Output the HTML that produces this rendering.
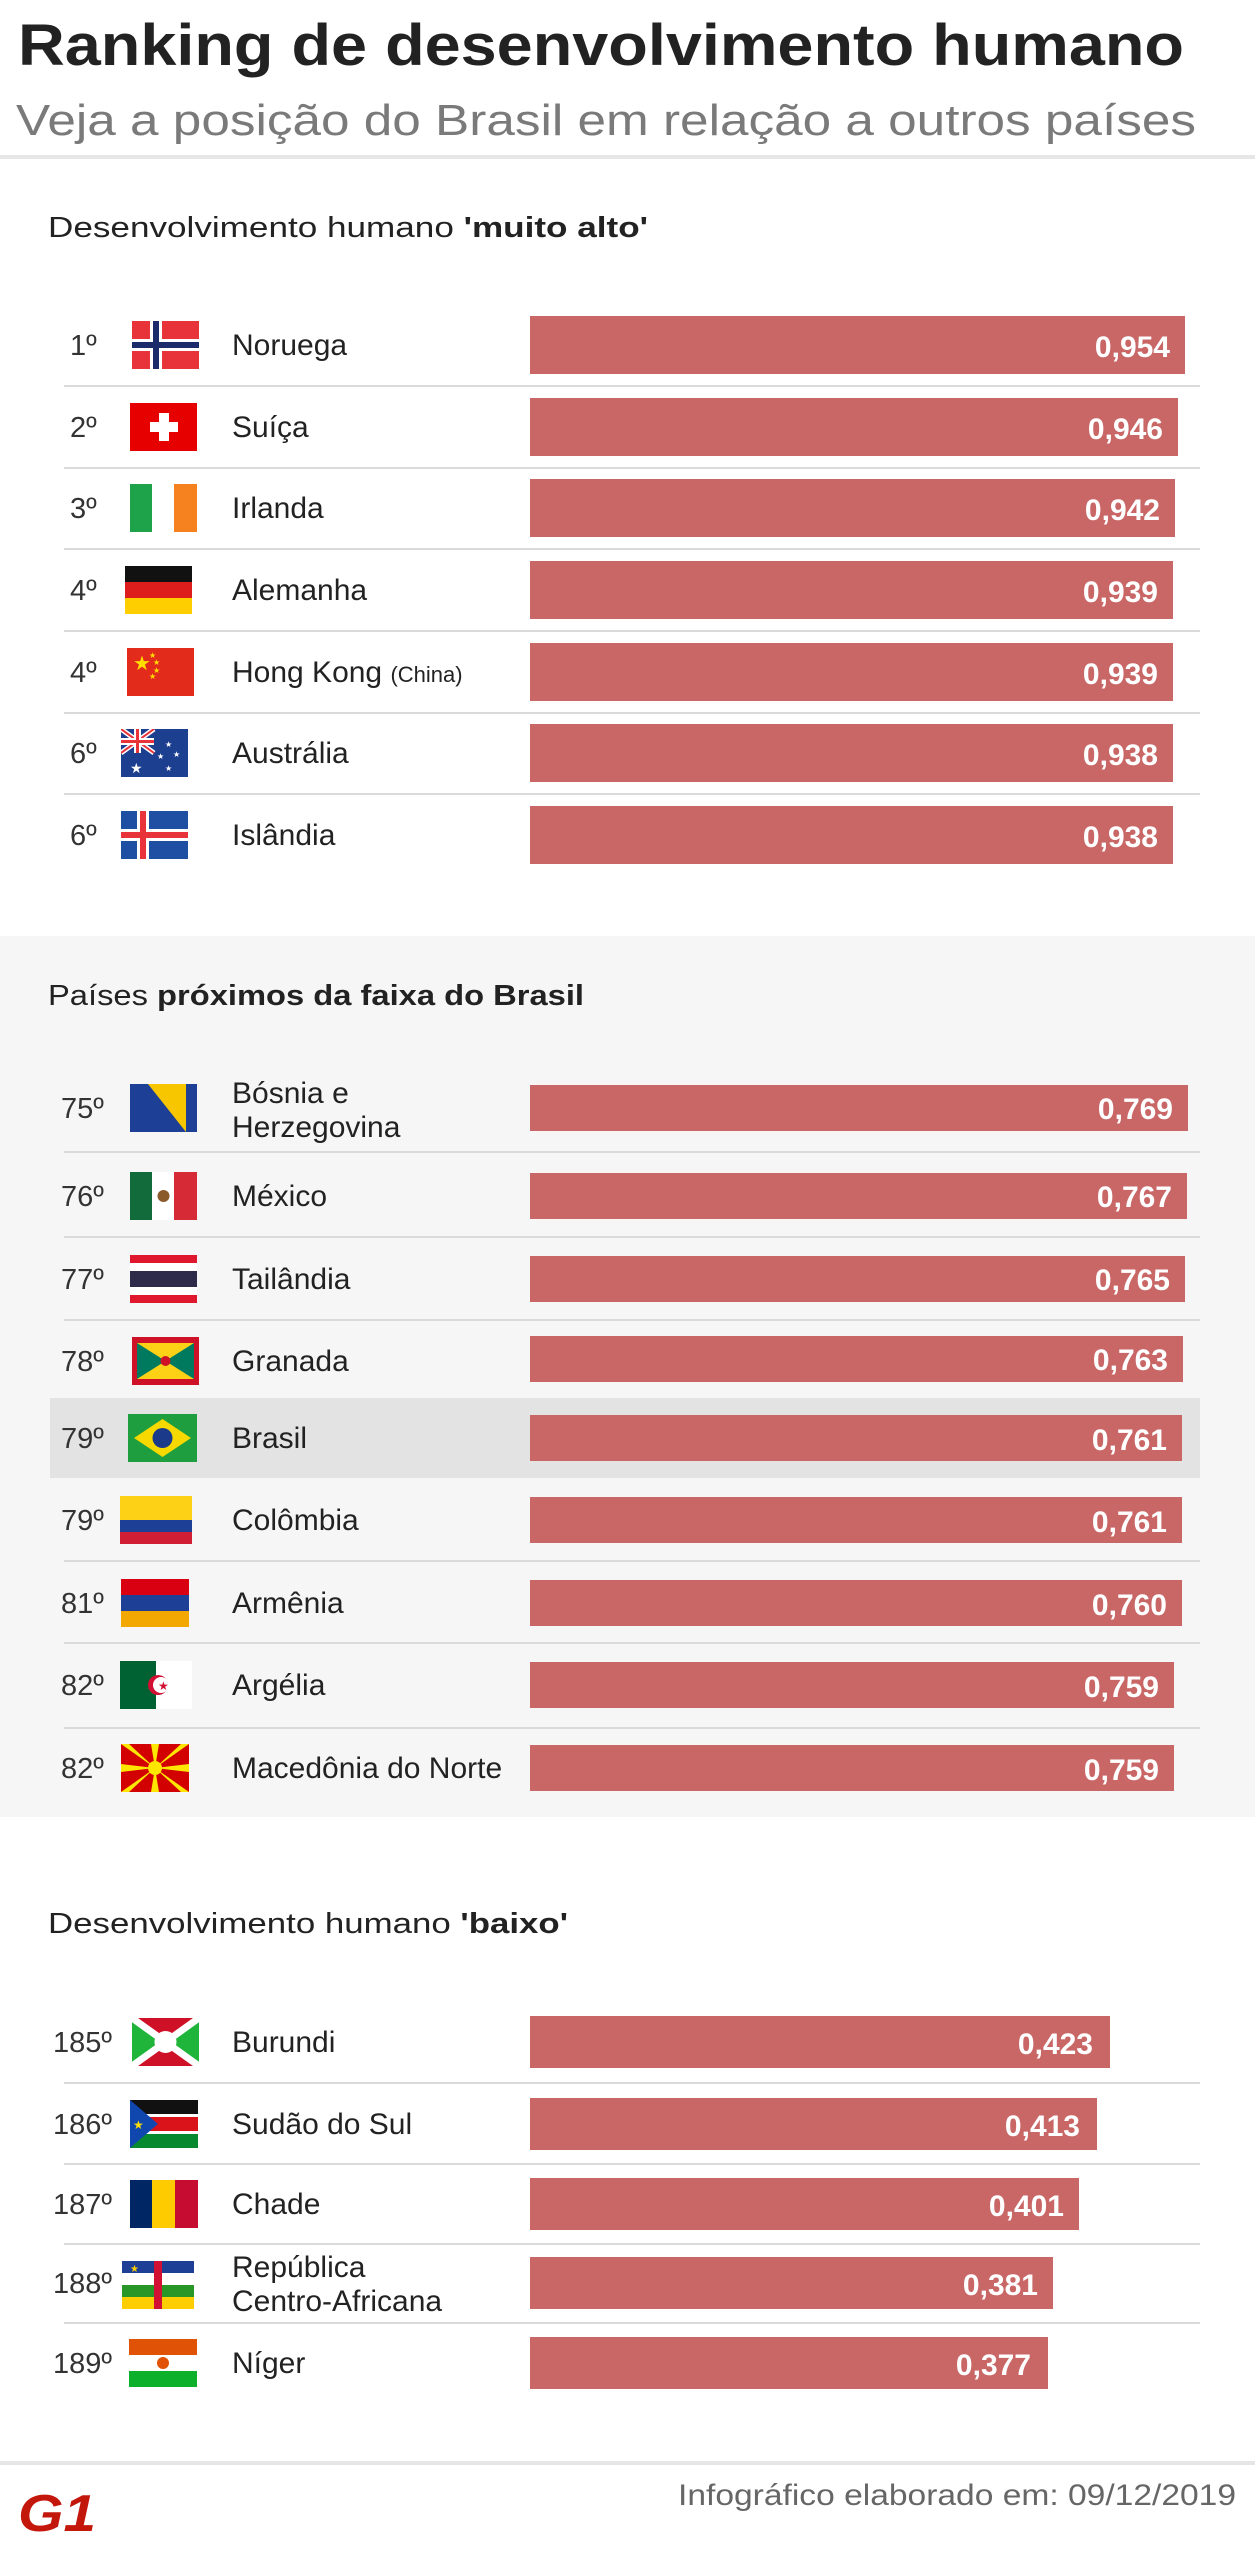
<!DOCTYPE html>
<html><head><meta charset="utf-8"><style>
html,body{margin:0;padding:0;background:#fff}
svg{display:block}
text{font-family:"Liberation Sans",sans-serif}
.r{font-size:29px;fill:#333}
.n{font-size:30px;fill:#222}
.v{font-size:30px;font-weight:bold;fill:#fff;text-anchor:end}
.h{font-size:29px;fill:#222}
.b{fill:#c96666}
.s{stroke:#dadada;stroke-width:2}
</style></head><body>
<svg width="1255" height="2560" viewBox="0 0 1255 2560" xmlns="http://www.w3.org/2000/svg">
<rect width="1255" height="2560" fill="#fff"/>
<text x="18" y="65" font-size="58" font-weight="bold" fill="#222" textLength="1166" lengthAdjust="spacingAndGlyphs">Ranking de desenvolvimento humano</text>
<text x="16" y="135" font-size="44" fill="#7a7a7a" textLength="1180" lengthAdjust="spacingAndGlyphs">Veja a posição do Brasil em relação a outros países</text>
<rect x="0" y="155" width="1255" height="4" fill="#e6e6e6"/>

<text x="48" y="237" class="h" textLength="600" lengthAdjust="spacingAndGlyphs">Desenvolvimento humano <tspan font-weight="bold">'muito alto'</tspan></text>

<!-- Section 1 -->
<g>
<line x1="64" y1="386" x2="1200" y2="386" class="s"/>
<line x1="64" y1="468" x2="1200" y2="468" class="s"/>
<line x1="64" y1="549" x2="1200" y2="549" class="s"/>
<line x1="64" y1="631" x2="1200" y2="631" class="s"/>
<line x1="64" y1="713" x2="1200" y2="713" class="s"/>
<line x1="64" y1="794" x2="1200" y2="794" class="s"/>

<text x="70" y="355" class="r">1º</text>
<svg x="132" y="321" width="67" height="48" viewBox="0 0 67 48"><rect width="67" height="48" fill="#e8333a"/><rect x="18" width="12" height="48" fill="#fff"/><rect y="18" width="67" height="12" fill="#fff"/><rect x="21" width="6" height="48" fill="#1b2a6b"/><rect y="21" width="67" height="6" fill="#1b2a6b"/></svg>
<text x="232" y="355" class="n">Noruega</text>
<rect x="530" y="316" width="655" height="58" class="b"/><text x="1170" y="357" class="v">0,954</text>

<text x="70" y="437" class="r">2º</text>
<svg x="130" y="403" width="67" height="48" viewBox="0 0 67 48"><rect width="67" height="48" fill="#e60000"/><rect x="29" y="10" width="10" height="28" fill="#fff"/><rect x="20" y="19" width="28" height="10" fill="#fff"/></svg>
<text x="232" y="437" class="n">Suíça</text>
<rect x="530" y="398" width="648" height="58" class="b"/><text x="1163" y="439" class="v">0,946</text>

<text x="70" y="518" class="r">3º</text>
<svg x="130" y="484" width="67" height="48" viewBox="0 0 67 48"><rect width="23" height="48" fill="#1fa34a"/><rect x="22" width="23" height="48" fill="#fff"/><rect x="44" width="23" height="48" fill="#f5821f"/></svg>
<text x="232" y="518" class="n">Irlanda</text>
<rect x="530" y="479" width="645" height="58" class="b"/><text x="1160" y="520" class="v">0,942</text>

<text x="70" y="600" class="r">4º</text>
<svg x="125" y="566" width="67" height="48" viewBox="0 0 67 48"><rect width="67" height="16" fill="#111"/><rect y="16" width="67" height="16" fill="#dd1c1c"/><rect y="32" width="67" height="16" fill="#ffce00"/></svg>
<text x="232" y="600" class="n">Alemanha</text>
<rect x="530" y="561" width="643" height="58" class="b"/><text x="1158" y="602" class="v">0,939</text>

<text x="70" y="682" class="r">4º</text>
<svg x="127" y="648" width="67" height="48" viewBox="0 0 67 48"><rect width="67" height="48" fill="#e32b1c"/><text x="6" y="22" font-size="20" fill="#ffde00">★</text><text x="22" y="10" font-size="8" fill="#ffde00">★</text><text x="26" y="17" font-size="8" fill="#ffde00">★</text><text x="26" y="25" font-size="8" fill="#ffde00">★</text><text x="22" y="31" font-size="8" fill="#ffde00">★</text></svg>
<text x="232" y="682" class="n">Hong Kong <tspan font-size="22">(China)</tspan></text>
<rect x="530" y="643" width="643" height="58" class="b"/><text x="1158" y="684" class="v">0,939</text>

<text x="70" y="763" class="r">6º</text>
<svg x="121" y="729" width="67" height="48" viewBox="0 0 67 48"><rect width="67" height="48" fill="#1d3f8f"/><path d="M0 0L33 24M33 0L0 24" stroke="#fff" stroke-width="5"/><path d="M0 0L33 24M33 0L0 24" stroke="#e8333a" stroke-width="2"/><rect x="13" width="7" height="24" fill="#fff"/><rect y="9" width="33" height="7" fill="#fff"/><rect x="15" width="3" height="24" fill="#e8333a"/><rect y="11" width="33" height="3" fill="#e8333a"/><text x="9" y="44" font-size="14" fill="#fff">★</text><text x="44" y="18" font-size="8" fill="#fff">★</text><text x="52" y="28" font-size="8" fill="#fff">★</text><text x="44" y="42" font-size="8" fill="#fff">★</text><text x="36" y="30" font-size="8" fill="#fff">★</text></svg>
<text x="232" y="763" class="n">Austrália</text>
<rect x="530" y="724" width="643" height="58" class="b"/><text x="1158" y="765" class="v">0,938</text>

<text x="70" y="845" class="r">6º</text>
<svg x="121" y="811" width="67" height="48" viewBox="0 0 67 48"><rect width="67" height="48" fill="#1e4fa3"/><rect x="16" width="12" height="48" fill="#fff"/><rect y="18" width="67" height="12" fill="#fff"/><rect x="19" width="6" height="48" fill="#e8333a"/><rect y="21" width="67" height="6" fill="#e8333a"/></svg>
<text x="232" y="845" class="n">Islândia</text>
<rect x="530" y="806" width="643" height="58" class="b"/><text x="1158" y="847" class="v">0,938</text>
</g>

<!-- Section 2 -->
<rect x="0" y="936" width="1255" height="881" fill="#f6f6f6"/>
<text x="48" y="1005" class="h" textLength="536" lengthAdjust="spacingAndGlyphs">Países <tspan font-weight="bold">próximos da faixa do Brasil</tspan></text>
<rect x="50" y="1398" width="1150" height="80" fill="#e3e3e3"/>
<line x1="64" y1="1152" x2="1200" y2="1152" class="s"/>
<line x1="64" y1="1237" x2="1200" y2="1237" class="s"/>
<line x1="64" y1="1320" x2="1200" y2="1320" class="s"/>
<line x1="64" y1="1561" x2="1200" y2="1561" class="s"/>
<line x1="64" y1="1643" x2="1200" y2="1643" class="s"/>
<line x1="64" y1="1728" x2="1200" y2="1728" class="s"/>

<text x="61" y="1118" class="r">75º</text>
<svg x="130" y="1084" width="67" height="48" viewBox="0 0 67 48"><rect width="67" height="48" fill="#1d3f95"/><path d="M18 0H56V48Z" fill="#f7c600"/></svg>
<text x="232" y="1103" class="n">Bósnia e</text><text x="232" y="1137" class="n">Herzegovina</text>
<rect x="530" y="1085" width="658" height="46" class="b"/><text x="1173" y="1119" class="v">0,769</text>

<text x="61" y="1206" class="r">76º</text>
<svg x="130" y="1172" width="67" height="48" viewBox="0 0 67 48"><rect width="23" height="48" fill="#116b3a"/><rect x="22" width="23" height="48" fill="#fff"/><rect x="44" width="23" height="48" fill="#d62b36"/><circle cx="33.5" cy="24" r="6" fill="#8a5a2b"/></svg>
<text x="232" y="1206" class="n">México</text>
<rect x="530" y="1173" width="657" height="46" class="b"/><text x="1172" y="1207" class="v">0,767</text>

<text x="61" y="1289" class="r">77º</text>
<svg x="130" y="1255" width="67" height="48" viewBox="0 0 67 48"><rect width="67" height="48" fill="#e0182d"/><rect y="8" width="67" height="32" fill="#fff"/><rect y="16" width="67" height="16" fill="#2d2a4a"/></svg>
<text x="232" y="1289" class="n">Tailândia</text>
<rect x="530" y="1256" width="655" height="46" class="b"/><text x="1170" y="1290" class="v">0,765</text>

<text x="61" y="1371" class="r">78º</text>
<svg x="132" y="1337" width="67" height="48" viewBox="0 0 67 48"><rect width="67" height="48" fill="#ce1126"/><rect x="5" y="6" width="57" height="36" fill="#007a5e"/><path d="M5 6H62L33.5 24ZM5 42H62L33.5 24Z" fill="#fcd116"/><circle cx="33.5" cy="24" r="5" fill="#ce1126"/></svg>
<text x="232" y="1371" class="n">Granada</text>
<rect x="530" y="1336" width="653" height="46" class="b"/><text x="1168" y="1370" class="v">0,763</text>

<text x="61" y="1448" class="r">79º</text>
<svg x="128" y="1414" width="69" height="48" viewBox="0 0 69 48"><rect width="69" height="48" fill="#1e9e3e"/><path d="M34.5 5L63 24L34.5 43L6 24Z" fill="#f7d900"/><circle cx="34.5" cy="24" r="10" fill="#1c3a8a"/></svg>
<text x="232" y="1448" class="n">Brasil</text>
<rect x="530" y="1415" width="652" height="46" class="b"/><text x="1167" y="1450" class="v">0,761</text>

<text x="61" y="1530" class="r">79º</text>
<svg x="120" y="1496" width="72" height="48" viewBox="0 0 72 48"><rect width="72" height="24" fill="#fcd116"/><rect y="24" width="72" height="12" fill="#1d3f95"/><rect y="36" width="72" height="12" fill="#d21e34"/></svg>
<text x="232" y="1530" class="n">Colômbia</text>
<rect x="530" y="1497" width="652" height="46" class="b"/><text x="1167" y="1532" class="v">0,761</text>

<text x="61" y="1613" class="r">81º</text>
<svg x="121" y="1579" width="68" height="48" viewBox="0 0 68 48"><rect width="68" height="16" fill="#d90012"/><rect y="16" width="68" height="16" fill="#1d3f95"/><rect y="32" width="68" height="16" fill="#f2a800"/></svg>
<text x="232" y="1613" class="n">Armênia</text>
<rect x="530" y="1580" width="652" height="46" class="b"/><text x="1167" y="1615" class="v">0,760</text>

<text x="61" y="1695" class="r">82º</text>
<svg x="120" y="1661" width="72" height="48" viewBox="0 0 72 48"><rect width="36" height="48" fill="#006233"/><rect x="36" width="36" height="48" fill="#fff"/><circle cx="38" cy="24" r="10" fill="#d21034"/><circle cx="41" cy="24" r="8" fill="#fff"/><text x="38" y="29" font-size="12" fill="#d21034">★</text></svg>
<text x="232" y="1695" class="n">Argélia</text>
<rect x="530" y="1662" width="644" height="46" class="b"/><text x="1159" y="1697" class="v">0,759</text>

<text x="61" y="1778" class="r">82º</text>
<svg x="121" y="1744" width="68" height="48" viewBox="0 0 68 48"><rect width="68" height="48" fill="#d20000"/><g fill="#ffe600"><path d="M0 0H8L34 24ZM60 0H68L34 24ZM0 48H8L34 24ZM60 48H68L34 24ZM30 0H38L34 24ZM30 48H38L34 24ZM0 20V28L34 24ZM68 20V28L34 24Z"/><circle cx="34" cy="24" r="7"/></g></svg>
<text x="232" y="1778" class="n">Macedônia do Norte</text>
<rect x="530" y="1745" width="644" height="46" class="b"/><text x="1159" y="1780" class="v">0,759</text>

<!-- Section 3 -->
<text x="48" y="1933" class="h" textLength="520" lengthAdjust="spacingAndGlyphs">Desenvolvimento humano <tspan font-weight="bold">'baixo'</tspan></text>
<line x1="64" y1="2083" x2="1200" y2="2083" class="s"/>
<line x1="64" y1="2164" x2="1200" y2="2164" class="s"/>
<line x1="64" y1="2244" x2="1200" y2="2244" class="s"/>
<line x1="64" y1="2323" x2="1200" y2="2323" class="s"/>

<text x="53" y="2052" class="r">185º</text>
<svg x="132" y="2018" width="67" height="48" viewBox="0 0 67 48"><path d="M0 0L33.5 24L0 48Z M67 0L33.5 24L67 48Z" fill="#1eb53a"/><path d="M0 0H67L33.5 24Z M0 48H67L33.5 24Z" fill="#ce1126"/><path d="M0 0L67 48M67 0L0 48" stroke="#fff" stroke-width="7"/><circle cx="33.5" cy="24" r="11" fill="#fff"/></svg>
<text x="232" y="2052" class="n">Burundi</text>
<rect x="530" y="2016" width="580" height="52" class="b"/><text x="1093" y="2054" class="v">0,423</text>

<text x="53" y="2134" class="r">186º</text>
<svg x="130" y="2100" width="68" height="48" viewBox="0 0 68 48"><rect width="68" height="16" fill="#111"/><rect y="16" width="68" height="16" fill="#da121a"/><rect y="32" width="68" height="16" fill="#078930"/><rect y="14" width="68" height="3" fill="#fff"/><rect y="31" width="68" height="3" fill="#fff"/><path d="M0 0L28 24L0 48Z" fill="#0f47af"/><text x="3" y="29" font-size="12" fill="#fcdd09">★</text></svg>
<text x="232" y="2134" class="n">Sudão do Sul</text>
<rect x="530" y="2098" width="567" height="52" class="b"/><text x="1080" y="2136" class="v">0,413</text>

<text x="53" y="2214" class="r">187º</text>
<svg x="130" y="2180" width="68" height="48" viewBox="0 0 68 48"><rect width="23" height="48" fill="#002664"/><rect x="22" width="23" height="48" fill="#fecb00"/><rect x="45" width="23" height="48" fill="#c60c30"/></svg>
<text x="232" y="2214" class="n">Chade</text>
<rect x="530" y="2178" width="549" height="52" class="b"/><text x="1064" y="2216" class="v">0,401</text>

<text x="53" y="2293" class="r">188º</text>
<svg x="122" y="2261" width="72" height="48" viewBox="0 0 72 48"><rect width="72" height="12" fill="#1d3f95"/><rect y="12" width="72" height="12" fill="#fff"/><rect y="24" width="72" height="12" fill="#289728"/><rect y="36" width="72" height="12" fill="#ffce00"/><rect x="32" width="8" height="48" fill="#d21034"/><text x="8" y="11" font-size="10" fill="#ffce00">★</text></svg>
<text x="232" y="2277" class="n">República</text><text x="232" y="2311" class="n">Centro-Africana</text>
<rect x="530" y="2257" width="523" height="52" class="b"/><text x="1038" y="2295" class="v">0,381</text>

<text x="53" y="2373" class="r">189º</text>
<svg x="129" y="2339" width="68" height="48" viewBox="0 0 68 48"><rect width="68" height="16" fill="#e05206"/><rect y="16" width="68" height="16" fill="#fff"/><rect y="32" width="68" height="16" fill="#0db02b"/><circle cx="34" cy="24" r="6" fill="#e05206"/></svg>
<text x="232" y="2373" class="n">Níger</text>
<rect x="530" y="2337" width="518" height="52" class="b"/><text x="1031" y="2375" class="v">0,377</text>

<!-- Footer -->
<rect x="0" y="2461" width="1255" height="4" fill="#e6e6e6"/>
<text x="18" y="2531" font-size="52" font-weight="bold" font-style="italic" fill="#c4170c" textLength="78" lengthAdjust="spacingAndGlyphs">G1</text>
<text x="678" y="2505" font-size="30" fill="#666" textLength="558" lengthAdjust="spacingAndGlyphs">Infográfico elaborado em: 09/12/2019</text>
</svg>
</body></html>
